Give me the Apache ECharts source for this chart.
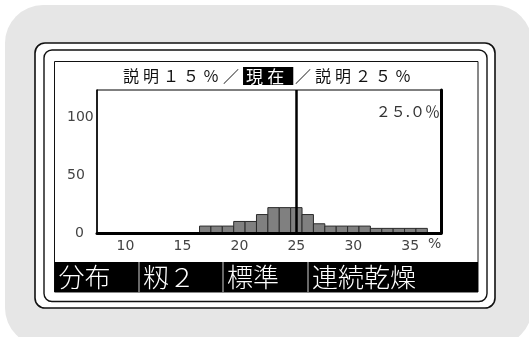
<!DOCTYPE html>
<html>
<head>
<meta charset="utf-8">
<script src="https://cdn.jsdelivr.net/npm/echarts@6/dist/echarts.min.js"></script>
<style>
  html, body { margin: 0; padding: 0; background: #ffffff; }
  #chart { width: 529px; height: 337px; }
</style>
</head>
<body>
<div id="chart"></div>
<script>
// Moisture distribution histogram (bins are 1 % wide, centred on each value)
const binCenters = [17, 18, 19, 20, 21, 22, 23, 24, 25, 26, 27, 28, 29, 30, 31, 32, 33, 34, 35, 36];
const binCounts  = [6, 6, 6, 10, 10, 16, 22, 22, 22, 16, 8, 6, 6, 6, 6, 4, 4, 4, 4, 4];
const xTickValues = [10, 15, 20, 25, 30, 35];
const yTickValues = [0, 50, 100];
const currentValue = 25.0;
const lowerLabel = '説明１５％';
const upperLabel = '説明２５％';
const modeLabel = '現在';
const menuItems = ['分布', '籾２', '標準', '連続乾燥'];

const CJK = '"Noto Sans CJK JP", "Noto Sans", sans-serif';
const NUM = '"DejaVu Sans", sans-serif';

// ASCII digits and % -> full-width forms used on the display (the decimal point stays narrow)
const toWide = s => s.replace(/[0-9%]/g, ch => String.fromCharCode(ch.charCodeAt(0) + 0xFEE0));
// widen the character pitch of the header line
const spaced = s => s.split('').join('\u2005');

// plot rectangle
const plot = { left: 97, top: 90, right: 441, bottom: 233 };
const W = 529, H = 337;

// menu strip cells (left edges)
const menuLeft = [54.5, 139, 223, 308];
const menuRight = 478;

const chart = echarts.init(document.getElementById('chart'), null, { renderer: 'canvas' });

const graphics = [
  // soft grey panel
  { type: 'rect', z: -10, shape: { x: 5, y: 5, width: 527, height: 341, r: 38 }, style: { fill: '#e6e6e6' } },
  // outer bezel
  { type: 'rect', z: -9, shape: { x: 35, y: 43, width: 460, height: 265, r: 10 }, style: { fill: '#ffffff', stroke: '#111', lineWidth: 1.6 } },
  // inner bezel
  { type: 'rect', z: -8, shape: { x: 44, y: 50, width: 443, height: 251.5, r: 8 }, style: { fill: 'none', stroke: '#111', lineWidth: 1.4 } },
  // screen
  { type: 'rect', z: -7, shape: { x: 54.5, y: 61.5, width: 423.5, height: 230.5 }, style: { fill: '#ffffff', stroke: '#111', lineWidth: 1 } },
  // menu strip
  { type: 'rect', z: -6, shape: { x: 54.5, y: 262, width: menuRight - 54.5, height: 30 }, style: { fill: '#000' } }
];

menuItems.forEach((txt, i) => {
  if (i > 0) {
    graphics.push({ type: 'line', z: -5, shape: { x1: menuLeft[i], y1: 262, x2: menuLeft[i], y2: 292 },
      style: { stroke: '#d0d0d0', lineWidth: 1 } });
  }
  graphics.push({ type: 'text', z: -5, x: menuLeft[i] + 4, y: 277.5,
    style: { text: txt, fill: '#ffffff', font: '300 26px ' + CJK, textAlign: 'left', textVerticalAlign: 'middle' } });
});

// header line with highlighted mode
graphics.push({
  type: 'text', x: 123, y: 76,
  style: {
    text: '{a|' + spaced(lowerLabel + '／') + '}{g1| }{b|' + spaced(modeLabel) + '}{g2| }{a|' + spaced('／' + upperLabel) + '}',
    textVerticalAlign: 'middle', textAlign: 'left',
    rich: {
      a: { fontFamily: CJK, fontSize: 16, fill: '#111' },
      g1: { fontFamily: CJK, fontSize: 18, fill: '#111' },
      g2: { fontFamily: CJK, fontSize: 8, fill: '#111' },
      b: { fontFamily: CJK, fontSize: 17, fill: '#ffffff', backgroundColor: '#000', padding: [1, 9, 0, 3] }
    }
  }
});

// current value readout
graphics.push({
  type: 'text', x: plot.right - 1, y: 111,
  style: { text: toWide(currentValue.toFixed(1) + '%'), font: '15px ' + CJK, fill: '#333', textAlign: 'right', textVerticalAlign: 'middle' }
});

// x unit
graphics.push({
  type: 'text', x: 428, y: 244,
  style: { text: '%', font: '14px ' + NUM, fill: '#444', textAlign: 'left', textVerticalAlign: 'middle' }
});

const option = {
  animation: false,
  backgroundColor: 'transparent',
  grid: {
    left: plot.left, top: plot.top, right: W - plot.right, bottom: H - plot.bottom, containLabel: false,
    show: true, borderColor: '#000', borderWidth: 1, backgroundColor: 'transparent'
  },
  xAxis: [
    {
      type: 'value', min: 7.5, max: 37.7, position: 'bottom', z: 5,
      axisLine: { show: true, onZero: false, lineStyle: { color: '#000', width: 3 } },
      axisTick: { show: false },
      splitLine: { show: false },
      axisLabel: { customValues: xTickValues, color: '#444', fontFamily: NUM, fontSize: 14, margin: 6 }
    }
  ],
  yAxis: [
    {
      type: 'value', min: 0, max: 124, position: 'left',
      axisLine: { show: true, onZero: false, lineStyle: { color: '#000', width: 1.5 } },
      axisTick: { show: false },
      splitLine: { show: false },
      axisLabel: {
        customValues: yTickValues, color: '#444', fontFamily: NUM, fontSize: 14, margin: 30, align: 'left',
        formatter: v => (v === 0 ? '{z|0}' : String(v)),
        rich: { z: { color: '#444', fontFamily: NUM, fontSize: 14, padding: [0, 0, 0, 8] } }
      }
    },
    {
      type: 'value', min: 0, max: 124, position: 'right', z: 5,
      axisLine: { show: true, onZero: false, lineStyle: { color: '#000', width: 3 } },
      axisTick: { show: false }, axisLabel: { show: false }, splitLine: { show: false }
    }
  ],
  graphic: { elements: graphics },
  series: [
    {
      type: 'custom',
      xAxisIndex: 0, yAxisIndex: 0,
      z: 2,
      data: binCenters.map((c, i) => [c, binCounts[i]]),
      renderItem: (params, api) => {
        const c = api.value(0), v = api.value(1);
        const p0 = api.coord([c - 0.5, v]);
        const p1 = api.coord([c + 0.5, 0]);
        return {
          type: 'rect',
          shape: { x: p0[0], y: p0[1], width: p1[0] - p0[0], height: p1[1] - p0[1] },
          style: { fill: '#808080', stroke: '#2a2a2a', lineWidth: 1 }
        };
      },
      markLine: {
        silent: true, symbol: 'none', z: 6,
        label: { show: false },
        lineStyle: { color: '#000', width: 2.5, type: 'solid' },
        data: [{ xAxis: currentValue }]
      }
    }
  ]
};

chart.setOption(option);
</script>
</body>
</html>
